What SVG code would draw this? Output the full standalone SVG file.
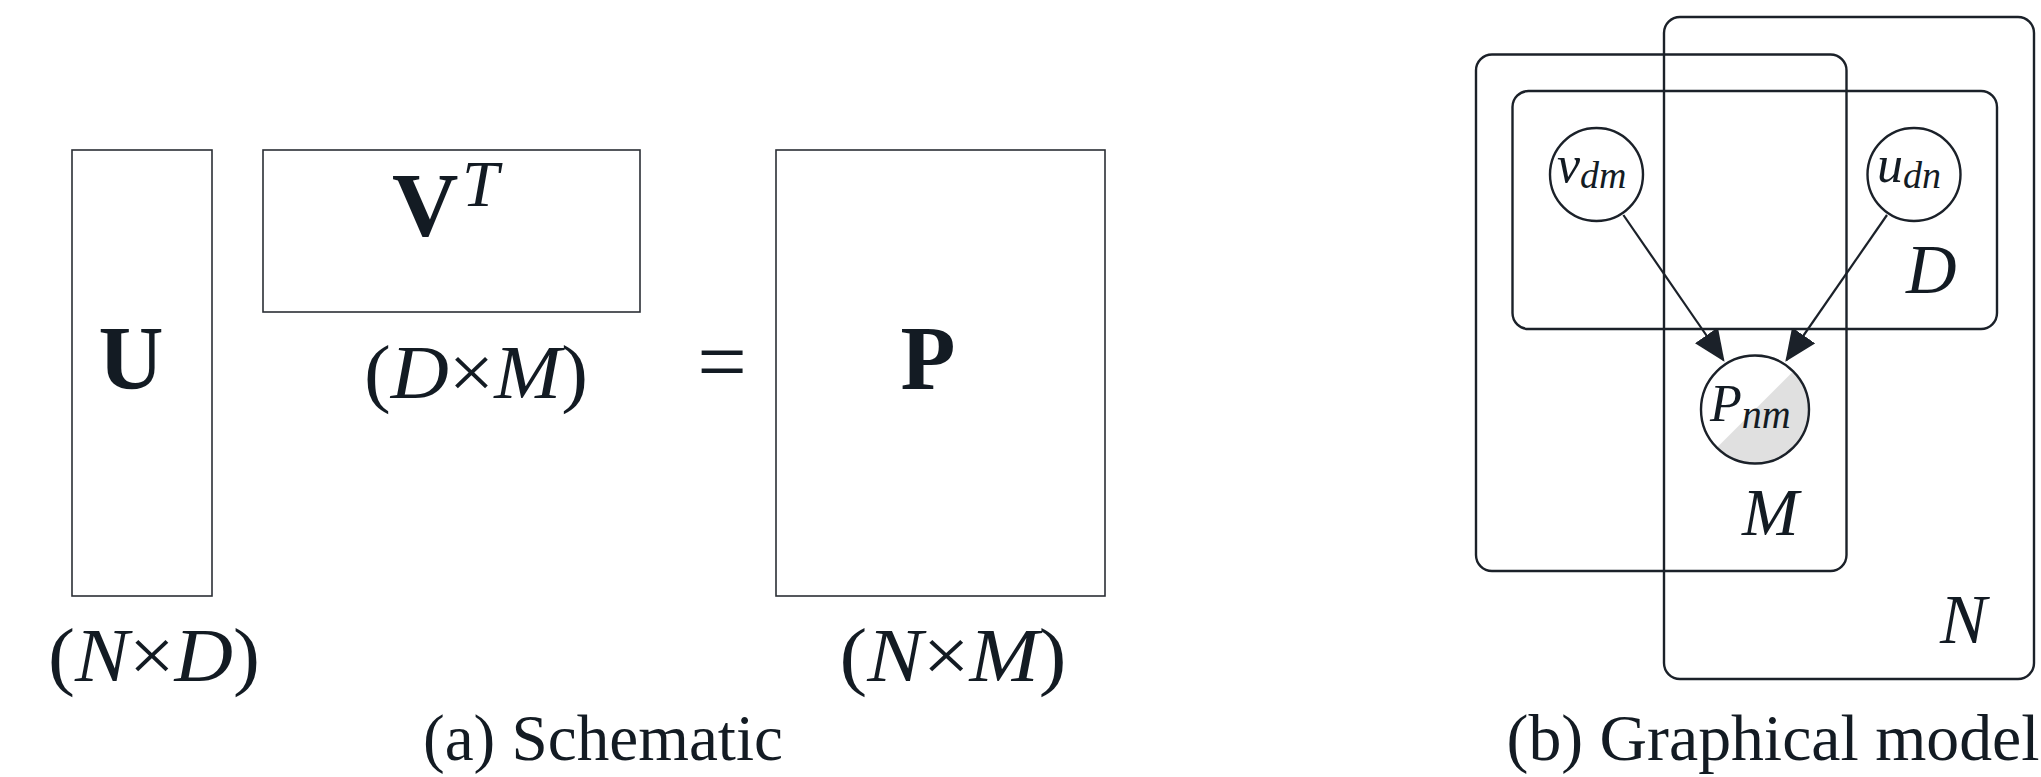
<svg xmlns="http://www.w3.org/2000/svg" width="2041" height="777" viewBox="0 0 2041 777">
<style>
  .mat { fill: none; stroke: #2b2f35; stroke-width: 1.6; }
  .plate { fill: none; stroke: #1b2129; stroke-width: 2.4; }
  .node { fill: #ffffff; stroke: #1b2129; stroke-width: 2.4; }
  .edge { stroke: #1b2129; stroke-width: 2.2; fill: none; }
  text { font-family: "Liberation Serif", "DejaVu Serif", serif; fill: #131b23; }
  .bold { font-weight: bold; }
  .it { font-style: italic; }
</style>
<defs>
  <marker id="arrow" viewBox="0 0 32 28" refX="30" refY="14" markerWidth="32" markerHeight="28" markerUnits="userSpaceOnUse" orient="auto">
    <path d="M0,0 L32,14 L0,28 z" fill="#1b2129"/>
  </marker>
  <clipPath id="pclip"><circle cx="1755" cy="409.5" r="54"/></clipPath>
</defs>

<!-- (a) Schematic -->
<g id="node-U">
  <rect class="mat" x="72" y="150" width="140" height="446"/>
  <text class="bold" x="131" y="389" font-size="90" text-anchor="middle">U</text>
</g>
<g id="node-VT">
  <rect class="mat" x="263" y="150" width="377" height="162"/>
  <text x="392" y="236" font-size="92"><tspan class="bold">V</tspan></text>
  <text class="it" x="462" y="206" font-size="66">T</text>
</g>
<g id="label-DxM">
  <text x="476" y="398" font-size="76" text-anchor="middle" textLength="224" lengthAdjust="spacingAndGlyphs">(<tspan class="it">D</tspan>×<tspan class="it">M</tspan>)</text>
</g>
<g id="label-eq">
  <text x="722" y="391" font-size="88" text-anchor="middle">=</text>
</g>
<g id="node-P">
  <rect class="mat" x="776" y="150" width="329" height="446"/>
  <text class="bold" x="928" y="389" font-size="90" text-anchor="middle">P</text>
</g>
<g id="label-NxD">
  <text x="154" y="681" font-size="76" text-anchor="middle" textLength="212" lengthAdjust="spacingAndGlyphs">(<tspan class="it">N</tspan>×<tspan class="it">D</tspan>)</text>
</g>
<g id="label-NxM">
  <text x="953" y="681" font-size="76" text-anchor="middle" textLength="227" lengthAdjust="spacingAndGlyphs">(<tspan class="it">N</tspan>×<tspan class="it">M</tspan>)</text>
</g>
<g id="caption-a">
  <text x="603" y="760" font-size="66" text-anchor="middle" textLength="360" lengthAdjust="spacingAndGlyphs">(a) Schematic</text>
</g>

<!-- (b) Graphical model -->
<g id="plate-M">
  <rect class="plate" x="1476" y="54.5" width="370.5" height="516.5" rx="16" ry="16"/>
  <text class="it" x="1742" y="535" font-size="68">M</text>
</g>
<g id="plate-N">
  <rect class="plate" x="1664" y="17" width="370" height="662" rx="16" ry="16"/>
  <text class="it" x="1940" y="643" font-size="70">N</text>
</g>
<g id="plate-D">
  <rect class="plate" x="1512.5" y="91" width="484.5" height="238" rx="16" ry="16"/>
  <text class="it" x="1906" y="293" font-size="70">D</text>
</g>

<g id="connectors">
  <line class="edge" x1="1623.4" y1="215" x2="1723.4" y2="360" marker-end="url(#arrow)"/>
  <line class="edge" x1="1887" y1="215" x2="1786.5" y2="360" marker-end="url(#arrow)"/>
</g>

<g id="node-vdm">
  <circle class="node" cx="1596.5" cy="174.5" r="46.5"/>
  <text class="it" x="1557" y="182" font-size="52">v<tspan font-size="38" dy="6">dm</tspan></text>
</g>
<g id="node-udn">
  <circle class="node" cx="1914" cy="174.5" r="46.5"/>
  <text class="it" x="1877" y="182" font-size="52">u<tspan font-size="38" dy="6">dn</tspan></text>
</g>
<g id="node-Pnm">
  <circle cx="1755" cy="409.5" r="54" fill="#ffffff"/>
  <polygon points="1855,309.5 1655,509.5 1855,509.5" fill="#e0e0e0" clip-path="url(#pclip)"/>
  <circle cx="1755" cy="409.5" r="54" fill="none" stroke="#1b2129" stroke-width="2.4"/>
  <text class="it" x="1710" y="421" font-size="52">P<tspan font-size="40" dy="7">nm</tspan></text>
</g>

<g id="caption-b">
  <text x="1773" y="760" font-size="66" text-anchor="middle" textLength="533" lengthAdjust="spacingAndGlyphs">(b) Graphical model</text>
</g>
</svg>
